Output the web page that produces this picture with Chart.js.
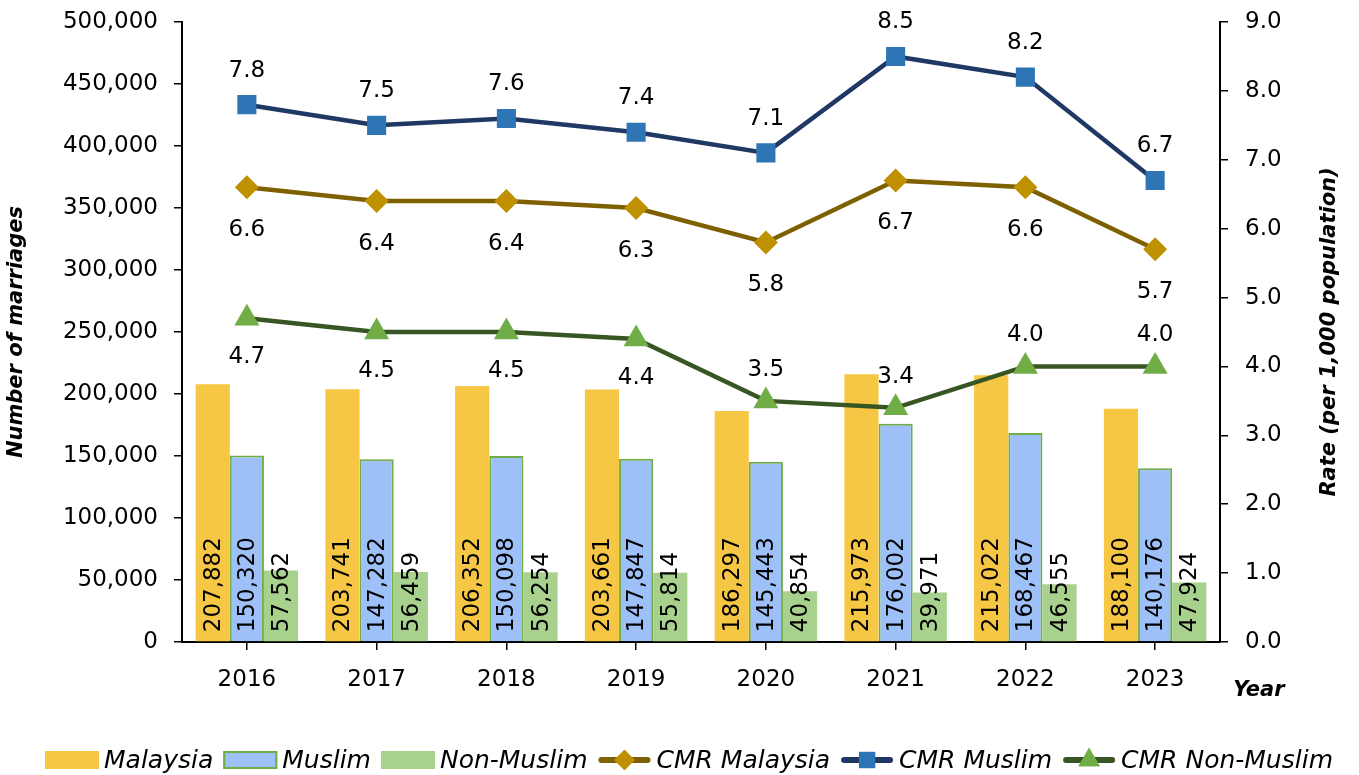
<!DOCTYPE html>
<html>
<head>
<meta charset="utf-8">
<script src="https://cdn.jsdelivr.net/npm/chart.js@4.4.1/dist/chart.umd.min.js"></script>
<style>
html, body { margin: 0; padding: 0; background: #fff; }
</style>
</head>
<body>
<canvas id="myChart" width="1359" height="775"></canvas>
<script>
const years = ['2016', '2017', '2018', '2019', '2020', '2021', '2022', '2023'];
const malaysia = [207882, 203741, 206352, 203661, 186297, 215973, 215022, 188100];
const muslim = [150320, 147282, 150098, 147847, 145443, 176002, 168467, 140176];
const nonMuslim = [57562, 56459, 56254, 55814, 40854, 39971, 46555, 47924];
const cmrMalaysia = [6.6, 6.4, 6.4, 6.3, 5.8, 6.7, 6.6, 5.7];
const cmrMuslim = [7.8, 7.5, 7.6, 7.4, 7.1, 8.5, 8.2, 6.7];
const cmrNonMuslim = [4.7, 4.5, 4.5, 4.4, 3.5, 3.4, 4.0, 4.0];

const FONT = '"DejaVu Sans", sans-serif';

function fmt(v) {
    return v.toLocaleString('en-US');
}

// labels on bars and line points
const valueLabels = {
    id: 'valueLabels',
    afterDatasetsDraw(chart) {
        const ctx = chart.ctx;
        ctx.save();
        ctx.font = '23px ' + FONT;
        ctx.fillStyle = '#000';
        [0, 1, 2].forEach(i => {
            const meta = chart.getDatasetMeta(i);
            meta.data.forEach((bar, j) => {
                ctx.save();
                ctx.translate(bar.x + 1, bar.base - 9);
                ctx.rotate(-Math.PI / 2);
                ctx.textAlign = 'left';
                ctx.textBaseline = 'middle';
                ctx.fillText(fmt(chart.data.datasets[i].data[j]), 0, 0);
                ctx.restore();
            });
        });
        ctx.textAlign = 'center';
        ctx.textBaseline = 'middle';
        // CMR Malaysia below, CMR Muslim above, Non-Muslim below then above
        [3, 4, 5].forEach(i => {
            const meta = chart.getDatasetMeta(i);
            meta.data.forEach((pt, j) => {
                let dy;
                if (i === 3) dy = 43;
                else if (i === 4) dy = -34;
                else dy = j < 4 ? 39 : -31;
                ctx.fillText(chart.data.datasets[i].data[j].toFixed(1), pt.x, pt.y + dy);
            });
        });
        ctx.restore();
    }
};

// right axis title, "Year" and legend at the bottom
const extras = {
    id: 'extras',
    afterDraw(chart) {
        const ctx = chart.ctx;
        const area = chart.chartArea;
        ctx.save();
        ctx.fillStyle = '#000';
        ctx.font = 'italic bold 21px ' + FONT;
        ctx.textAlign = 'center';
        ctx.textBaseline = 'middle';
        ctx.fillText('Year', 1259, 691);

        ctx.save();
        ctx.translate(1330, (area.top + area.bottom) / 2);
        ctx.rotate(-Math.PI / 2);
        ctx.fillText('Rate (per 1,000 population)', 0, 0);
        ctx.restore();

        ctx.font = 'italic 25px ' + FONT;
        const sw = 54, gap = 5, sep = 10, cy = 760;
        const items = chart.data.datasets.map(ds => ({ ds, w: sw + gap + ctx.measureText(ds.label).width }));
        const total = items.reduce((s, it) => s + it.w, 0) + sep * (items.length - 1);
        let x = 689 - total / 2;
        items.forEach(it => {
            const ds = it.ds;
            if (ds.type === 'line') {
                ctx.strokeStyle = ds.borderColor;
                ctx.lineWidth = 6;
                ctx.lineCap = 'round';
                ctx.beginPath();
                ctx.moveTo(x + 4, cy);
                ctx.lineTo(x + sw - 4, cy);
                ctx.stroke();
                ctx.fillStyle = ds.pointBackgroundColor;
                Chart.helpers.drawPoint(ctx, { pointStyle: ds.pointStyle, radius: ds.pointRadius * 0.85, rotation: 0, borderWidth: 0 }, x + sw / 2, cy);
                ctx.fill();
            } else {
                ctx.fillStyle = ds.backgroundColor;
                ctx.fillRect(x, cy - 9, sw, 18);
                if (ds.borderWidth) {
                    ctx.strokeStyle = ds.borderColor;
                    ctx.lineWidth = 2;
                    ctx.strokeRect(x + 1, cy - 8, sw - 2, 16);
                }
            }
            ctx.fillStyle = '#000';
            ctx.textAlign = 'left';
            ctx.fillText(ds.label, x + sw + gap, cy + 1);
            x += it.w + sep;
        });
        ctx.restore();
    }
};

function fitY(width) {
    return function (scale) {
        scale.width = width;
        scale.paddingTop = 0;
        scale.paddingBottom = 0;
    };
}

const ctx = document.getElementById('myChart').getContext('2d');
new Chart(ctx, {
    data: {
        labels: years,
        datasets: [
            { type: 'bar', label: 'Malaysia', data: malaysia, backgroundColor: '#F6C744', borderWidth: 0, yAxisID: 'y', order: 5 },
            { type: 'bar', label: 'Muslim', data: muslim, backgroundColor: '#9DC0F8', borderColor: '#70AD47', borderWidth: 2, yAxisID: 'y', order: 5 },
            { type: 'bar', label: 'Non-Muslim', data: nonMuslim, backgroundColor: '#A9D18E', borderWidth: 0, yAxisID: 'y', order: 5 },
            { type: 'line', label: 'CMR Malaysia', data: cmrMalaysia, borderColor: '#7F6000', borderWidth: 4.5,
              pointStyle: 'rectRot', pointRadius: 12, pointBackgroundColor: '#BF9000', pointBorderWidth: 0, yAxisID: 'y1', order: 2 },
            { type: 'line', label: 'CMR Muslim', data: cmrMuslim, borderColor: '#1F3864', borderWidth: 4.5,
              pointStyle: 'rect', pointRadius: 13.5, pointBackgroundColor: '#2E75B6', pointBorderWidth: 0, yAxisID: 'y1', order: 1 },
            { type: 'line', label: 'CMR Non-Muslim', data: cmrNonMuslim, borderColor: '#375623', borderWidth: 4.5,
              pointStyle: 'triangle', pointRadius: 14.5, pointBackgroundColor: '#70AD47', pointBorderWidth: 0, yAxisID: 'y1', order: 3 }
        ]
    },
    options: {
        responsive: false,
        animation: false,
        layout: { padding: { top: 22, left: 0, right: 0, bottom: 0 } },
        plugins: {
            legend: { display: false },
            tooltip: { enabled: false }
        },
        datasets: {
            bar: { categoryPercentage: 0.79, barPercentage: 1.0 }
        },
        scales: {
            x: {
                offset: true,
                grid: { offset: false, drawOnChartArea: false, drawTicks: true, tickLength: 8, color: '#000', lineWidth: 1.5 },
                border: { color: '#000', width: 2 },
                ticks: { color: '#000', font: { family: FONT, size: 23 }, padding: 16, maxRotation: 0 },
                afterFit(scale) { scale.height = 133; }
            },
            y: {
                position: 'left',
                min: 0, max: 500000,
                ticks: { stepSize: 50000, color: '#000', font: { family: FONT, size: 23 }, padding: 16, callback: v => fmt(v) },
                grid: { drawOnChartArea: false, drawTicks: true, tickLength: 8, color: '#000', lineWidth: 1.5 },
                border: { color: '#000', width: 2 },
                title: { display: true, text: 'Number of marriages', color: '#000', font: { family: FONT, size: 21, weight: 'bold', style: 'italic' }, padding: { top: 4, bottom: 4 } },
                afterFit: fitY(182)
            },
            y1: {
                position: 'right',
                min: 0, max: 9,
                ticks: { stepSize: 1, color: '#000', font: { family: FONT, size: 23 }, padding: 17, callback: v => v.toFixed(1) },
                grid: { drawOnChartArea: false, drawTicks: true, tickLength: 8, color: '#000', lineWidth: 1.5 },
                border: { color: '#000', width: 2 },
                afterFit: fitY(139)
            }
        }
    },
    plugins: [valueLabels, extras]
});
</script>
</body>
</html>
